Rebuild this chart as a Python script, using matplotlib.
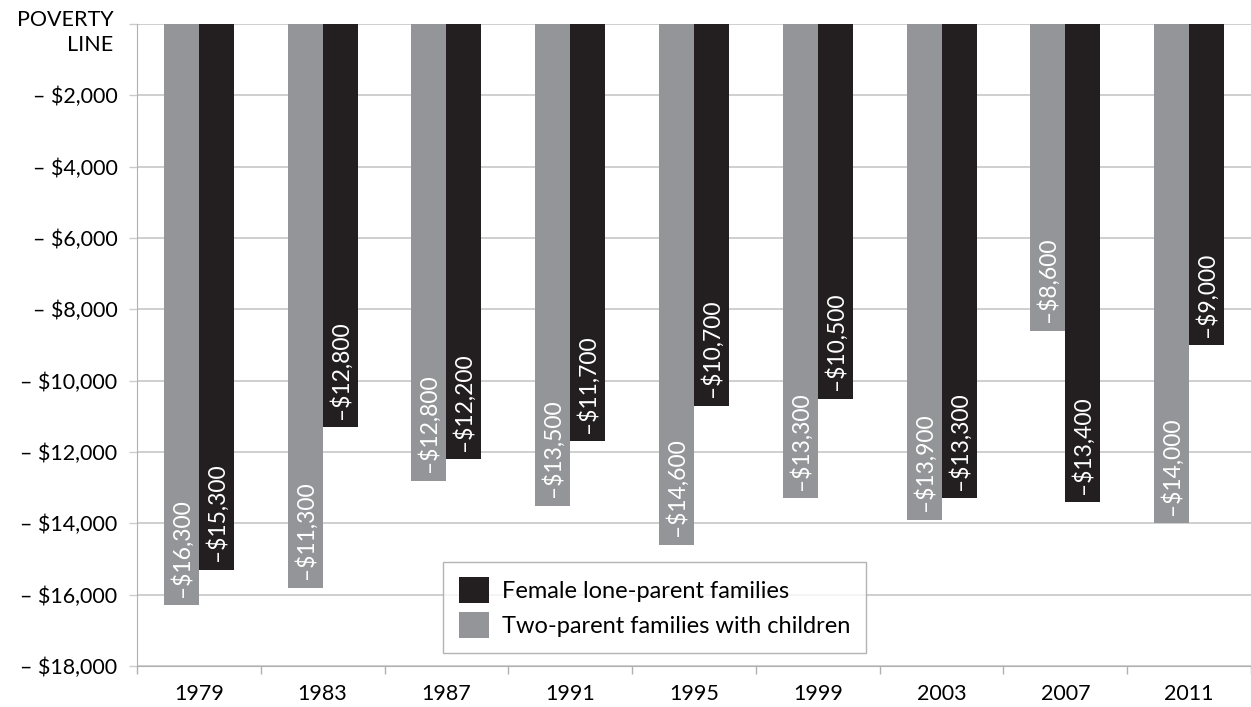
import matplotlib.pyplot as plt
import numpy as np

years = ['1979', '1983', '1987', '1991', '1995', '1999', '2003', '2007', '2011']
# bar depths as drawn
two_parent = [-16300, -15800, -12800, -13500, -14600, -13300, -13900, -8600, -14000]
female_lone = [-15300, -11300, -12200, -11700, -10700, -10500, -13300, -13400, -9000]
# labels as printed on the bars
two_parent_labels = ['\u2013$16,300', '\u2013$11,300', '\u2013$12,800', '\u2013$13,500', '\u2013$14,600',
                     '\u2013$13,300', '\u2013$13,900', '\u2013$8,600', '\u2013$14,000']
female_lone_labels = ['\u2013$15,300', '\u2013$12,800', '\u2013$12,200', '\u2013$11,700', '\u2013$10,700',
                      '\u2013$10,500', '\u2013$13,300', '\u2013$13,400', '\u2013$9,000']
yticks = [-2000, -4000, -6000, -8000, -10000, -12000, -14000, -16000, -18000]
ytick_labels = ['\u2013 $2,000', '\u2013 $4,000', '\u2013 $6,000', '\u2013 $8,000', '\u2013 $10,000',
                '\u2013 $12,000', '\u2013 $14,000', '\u2013 $16,000', '\u2013 $18,000']

gray = '#939598'
black = '#231f20'
grid_c = '#cccccc'

plt.rcParams['font.family'] = ['Lato', 'DejaVu Sans']

fig = plt.figure(figsize=(12.51, 7.07), dpi=100)
ax = fig.add_axes([0.1095, 0.058, 0.8905, 0.908])

x = np.arange(len(years))
w = 0.283
ax.bar(x - w / 2, two_parent, w, color=gray, label='Two-parent families with children', zorder=3)
ax.bar(x + w / 2, female_lone, w, color=black, label='Female lone-parent families', zorder=3)

for i in range(len(years)):
    ax.annotate(two_parent_labels[i], (x[i] - w / 2, two_parent[i]), xytext=(0, 6),
                textcoords='offset points', rotation=90, ha='center', va='bottom',
                color='white', fontsize=16.5, zorder=4)
    ax.annotate(female_lone_labels[i], (x[i] + w / 2, female_lone[i]), xytext=(0, 6),
                textcoords='offset points', rotation=90, ha='center', va='bottom',
                color='white', fontsize=16.5, zorder=4)

ax.set_xlim(-0.5, len(years) - 0.5)
ax.set_ylim(-18000, 0)

ax.set_yticks([0] + yticks)
ax.set_yticklabels([''] + ytick_labels, fontsize=15.5)
ax.annotate('POVERTY\nLINE', (0, 0), xycoords=('axes fraction', 'data'), xytext=(-17, -6),
            textcoords='offset points', ha='right', va='center', fontsize=15.5,
            multialignment='right', linespacing=1.35)
ax.tick_params(axis='y', length=6, width=1, color=grid_c, pad=8)
ax.yaxis.grid(True, color=grid_c, linewidth=1.3, zorder=0)

ax.set_xticks(x)
ax.set_xticklabels(years, fontsize=15.5)
ax.set_xticks(np.arange(len(years) + 1) - 0.5, minor=True)
ax.tick_params(axis='x', which='major', length=0, pad=13)
ax.tick_params(axis='x', which='minor', length=6, width=1, color='#b0b0b0')

for s in ['top', 'right']:
    ax.spines[s].set_visible(False)
ax.spines['left'].set_color('#b0b0b0')
ax.spines['bottom'].set_color('#b0b0b0')

handles, labels = ax.get_legend_handles_labels()
leg = ax.legend(handles[::-1], labels[::-1], loc='lower left', bbox_to_anchor=(0.275, 0.02),
                borderaxespad=0, fontsize=17, frameon=True, fancybox=False, edgecolor='#a0a0a0',
                handlelength=1.3, handleheight=1.3, borderpad=0.65, labelspacing=0.38,
                handletextpad=0.55)
leg.get_frame().set_linewidth(1)
leg.set_zorder(5)

fig.savefig('out.png', dpi=100)
